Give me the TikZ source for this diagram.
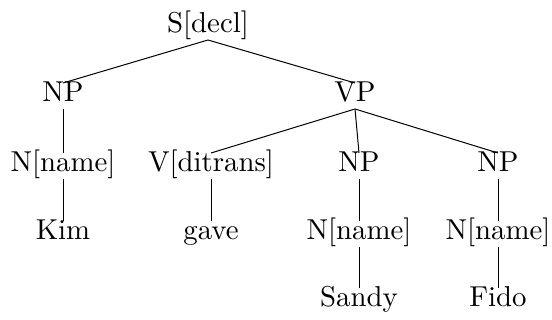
\documentclass[tikz,border=0pt]{standalone}
\usepackage{fontspec}
\newfontfamily\treefont{lmroman10-regular.otf}
\begin{document}
\begin{tikzpicture}[x=0.5pt, y=-0.5pt,
  cat/.style={anchor=base, font=\treefont\fontsize{14.4}{17}\selectfont,
    text height=0.78em, text depth=0.18em, inner xsep=1pt, inner ysep=1.5pt},
  branch/.style={line width=0.5pt}]
\useasboundingbox (0,0) rectangle (552,320);
% row 1
\node[cat] (s)    at (208,33)  {S[decl]};
% row 2
\node[cat] (np1)  at (63,102)  {NP};
\node[cat] (vp)   at (355,102) {VP};
% row 3
\node[cat] (n1)   at (63,172)  {N[name]};
\node[cat] (v)    at (211,172) {V[ditrans]};
\node[cat] (np2)  at (359,172) {NP};
\node[cat] (np3)  at (498,172) {NP};
% row 4
\node[cat] (kim)  at (63,240)  {Kim};
\node[cat] (gave) at (211,240) {gave};
\node[cat] (n2)   at (359,240) {N[name]};
\node[cat] (n3)   at (498,240) {N[name]};
% row 5
\node[cat] (sandy) at (359,307) {Sandy};
\node[cat] (fido)  at (498,307) {Fido};
% branches
\draw[branch] (s.south) -- (np1.north);
\draw[branch] (s.south) -- (vp.north);
\draw[branch] (np1.south) -- (n1.north);
\draw[branch] (vp.south) -- (v.north);
\draw[branch] (vp.south) -- (np2.north);
\draw[branch] (vp.south) -- (np3.north);
\draw[branch] (n1.south) -- (kim.north);
\draw[branch] (v.south) -- (gave.north);
\draw[branch] (np2.south) -- (n2.north);
\draw[branch] (np3.south) -- (n3.north);
\draw[branch] (n2.south) -- (sandy.north);
\draw[branch] (n3.south) -- (fido.north);
\end{tikzpicture}
\end{document}
